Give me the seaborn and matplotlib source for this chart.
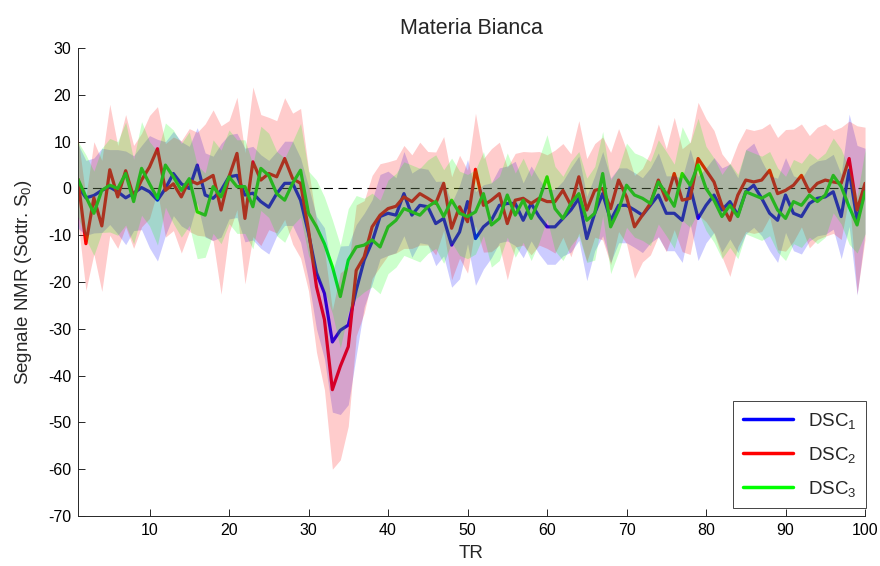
import numpy as np
import pandas as pd
import matplotlib
matplotlib.use("Agg")
import matplotlib.pyplot as plt
import seaborn as sns
from matplotlib.lines import Line2D

tr = list(range(1, 101))

dsc1 = [0.5, -2, -1.5, -0.4, 0.3, -0.7, -2, -1, 0.2, -0.7,
        -2.5, 0, 3.2, 1, 0, 5, -1.4, -2.1, -0.4, 2.5,
        2.8, -1.4, -1, -2.8, -4, -1.1, 1.1, 1.1, -2.5, -9.6,
        -18, -22.4, -32.8, -30.3, -29.2, -21.7, -15.3, -11.4, -6, -5.3,
        -5.7, -1.1, -5.7, -3.6, -3.9, -7.5, -6.4, -12.1, -9.3, -2.8,
        -10.7, -8.2, -6.8, -3.6, -3.2, -3.2, -6.8, -3.2, -6, -8.2,
        -8.2, -6.4, -4.6, -2.1, -10.7, -5.3, -1.1, -6.8, -3.6, -3.6,
        -4.6, -5.7, -3.6, -1.4, -5.3, -5.3, -6.8, 0.4, -6.4, -3.6,
        -1.4, -4.6, -2.8, -5.7, -0.7, 0.7, -2.1, -5.3, -6.8, -1.4,
        -5.3, -6, -3.2, -2.1, -1.8, -0.7, -6, 3.9, -6.8, -0.4]

dsc2 = [2, -11.8, -2, -8, 4, -1.8, 3.8, -1.8, 1.8, 4.6,
        8.5, -0.4, 1, -1.8, 1.8, 1, 1.8, 2.8, -4.6, 2.5,
        7.5, -6.4, 5.7, 1.8, 3.2, 2.5, 6.4, 2.1, 1.1, -8.9,
        -21, -28, -43, -38, -33.8, -17.5, -14.6, -8.2, -5.7, -4.3,
        -3.8, -1.8, -2.8, -1.1, -2.1, -3.2, 1.1, -8.5, -3.9, -7.1,
        4.1, -3.6, -2.5, -1.1, -7.5, -2.5, -2.1, -3.2, -2.1, -2.8,
        -2.8, -0.4, -3.6, 2.5, -4.6, -0.4, 0, -4.3, 1.8, -1.8,
        -8.2, -5.7, -3.2, 1.8, -2.5, 3.2, -2.5, -2.1, 6.4, 3.9,
        1.4, -3.6, -6.8, -1.4, 1.8, 1.4, 1.8, 3.9, -1.1, -0.4,
        0.7, 2.8, -0.7, 1.1, 1.8, 1.4, 1.1, 6.4, -4.6, 1.1]

dsc3 = [2, -1.8, -5.3, -0.4, 0.7, 0, 3.2, -2.8, 4.3, 1,
        -2.1, 5, 2.5, -0.4, 2.1, -5, -5.7, 0.4, -1.8, 2.5,
        0.4, 0.4, -3.9, 4.3, 2.8, -1.1, -2.5, 1.1, 3.9, -5.3,
        -8.2, -11.8, -16.7, -23.1, -15.3, -12.5, -12.1, -11, -12.5, -8.2,
        -6.8, -4.3, -5, -5.7, -3.9, -2.8, -6, -2.5, -5.3, -6,
        -5, -1.1, -7.8, -6.4, -1.4, -5.7, -2.5, -6.4, -2.5, 2.5,
        -4.3, -6.4, -3.2, -1.1, -6.8, -5.3, 3.2, -8.2, -4.6, 0.7,
        -1.4, -2.1, -3.2, 1.4, -1.1, -3.8, 3.2, 0.7, 5, 0,
        -2.5, -6, -3.6, -6, -0.7, -1.4, -2.1, -1.1, -4.6, -6.4,
        -2.8, -3.6, -1.4, -2.8, -1.4, 2.8, 0.4, -3.9, -7.8, -0.7]

sd1 = [9, 8, 8, 9, 8, 9, 10, 8, 9, 12,
       13, 10, 9, 9, 9, 8, 9, 9, 10, 9,
       9, 10, 10, 10, 10, 9, 9, 9, 9, 10,
       12, 14, 15, 18, 17, 14, 10, 9, 9, 9,
       8, 9, 9, 8, 8, 9, 8, 9, 10, 9,
       10, 9, 8, 8, 8, 9, 8, 8, 8, 8,
       8, 8, 9, 9, 9, 8, 9, 9, 8, 8,
       8, 8, 8, 9, 8, 8, 9, 8, 9, 8,
       8, 9, 8, 8, 9, 9, 8, 8, 9, 8,
       8, 8, 8, 8, 8, 8, 9, 12, 16, 9]

sd2 = [9, 10, 12, 14, 14, 11, 12, 11, 10, 11,
       9, 10, 10, 12, 11, 11, 12, 14, 18, 12,
       12, 14, 16, 14, 12, 12, 13, 14, 16, 13,
       14, 15, 17, 20, 17, 14, 12, 11, 11, 10,
       10, 11, 10, 11, 10, 11, 10, 11, 11, 11,
       12, 10, 11, 11, 12, 10, 10, 11, 10, 10,
       11, 10, 11, 12, 11, 10, 11, 12, 11, 10,
       11, 10, 11, 12, 11, 12, 11, 12, 12, 11,
       11, 11, 12, 11, 11, 11, 11, 10, 12, 13,
       12, 11, 12, 12, 12, 11, 12, 8, 18, 12]

sd3 = [8, 9, 9, 9, 10, 10, 11, 9, 10, 9,
       10, 9, 10, 10, 10, 10, 9, 10, 10, 10,
       10, 10, 9, 9, 9, 9, 9, 9, 10, 9,
       10, 10, 10, 11, 11, 11, 10, 10, 10, 10,
       10, 10, 10, 10, 10, 10, 10, 9, 9, 9,
       9, 9, 9, 9, 9, 9, 9, 9, 9, 9,
       9, 9, 9, 9, 9, 10, 9, 10, 9, 9,
       9, 9, 9, 9, 9, 9, 10, 9, 10, 9,
       9, 9, 9, 9, 9, 9, 9, 9, 9, 9,
       9, 9, 9, 9, 9, 8, 8, 8, 6, 9]

series_names = ["DSC$_1$", "DSC$_2$", "DSC$_3$"]
series_colors = ["#0000ff", "#ff0000", "#00ff00"]
yticks = list(range(-70, 31, 10))
xticks = list(range(10, 101, 10))

sns.set_theme(style="white")
plt.rcParams["font.family"] = ["Liberation Sans", "DejaVu Sans"]
plt.rcParams["mathtext.fontset"] = "custom"
plt.rcParams["mathtext.rm"] = "Liberation Sans"
plt.rcParams["mathtext.it"] = "Liberation Sans"
plt.rcParams["axes.unicode_minus"] = False

df = pd.DataFrame({
    "TR": tr * 3,
    "val": dsc1 + dsc2 + dsc3,
    "serie": [series_names[0]] * 100 + [series_names[1]] * 100 + [series_names[2]] * 100,
})

fig = plt.figure(figsize=(8.8, 5.66), dpi=100)
ax = fig.add_axes([0.0886, 0.0883, 0.8944, 0.8267])

ax.axhline(0, color="black", lw=0.8, ls=(0, (8, 5)), zorder=1)

sns.lineplot(data=df, x="TR", y="val", hue="serie", palette=series_colors,
             hue_order=series_names, linewidth=2.3, ax=ax, legend=False,
             zorder=2, errorbar=None)

x = np.array(tr)
for m, s, c in zip([dsc1, dsc2, dsc3], [sd1, sd2, sd3], series_colors):
    m = np.array(m); s = np.array(s)
    ax.fill_between(x, m - s, m + s, color=c, alpha=0.2, linewidth=0, zorder=3)

axcol = "#262626"
ax.set_xlim(1, 100)
ax.set_ylim(-70, 30)
ax.set_xticks(xticks)
ax.set_yticks(yticks)
ax.tick_params(direction="in", length=5, width=0.7, labelsize=11.5, colors=axcol,
               labelcolor="black", bottom=True, left=True, top=False, right=False, pad=5)
for sp in ["top", "right"]:
    ax.spines[sp].set_visible(False)
for sp in ["left", "bottom"]:
    ax.spines[sp].set_color(axcol)
    ax.spines[sp].set_linewidth(0.7)

ax.set_xlabel("TR", fontsize=13.5, labelpad=5)
ax.set_ylabel("Segnale NMR (Sottr. S$_0$)", fontsize=13.5, labelpad=10)
ax.set_title("Materia Bianca", fontsize=15.5, pad=10)

handles = [Line2D([0], [0], color=c, lw=2.5) for c in series_colors]
leg = ax.legend(handles, series_names, loc="lower right", fontsize=13.5,
                frameon=True, fancybox=False, edgecolor=axcol, framealpha=1,
                handlelength=2.7, borderaxespad=0.0, labelspacing=0.75,
                borderpad=0.5, bbox_to_anchor=(1.0013, 0.017))
leg.get_frame().set_linewidth(0.6)

fig.savefig("out.png", dpi=100)
